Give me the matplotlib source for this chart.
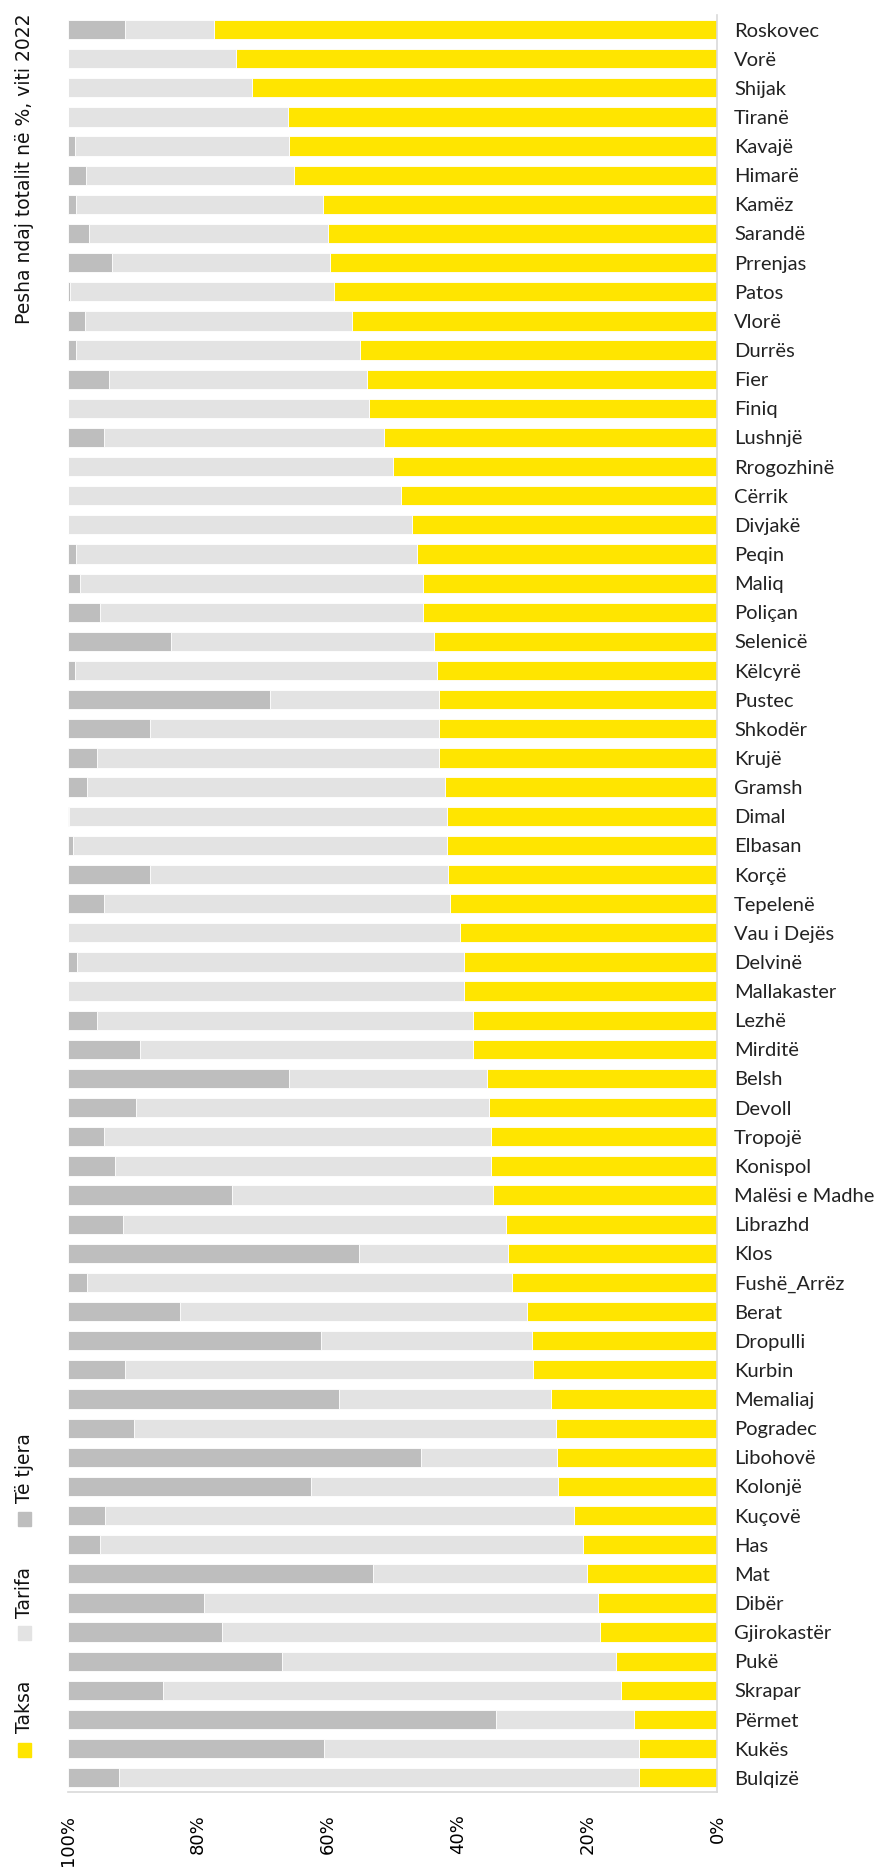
import matplotlib
matplotlib.use("Agg")
import matplotlib.pyplot as plt
from matplotlib.patches import Rectangle
from matplotlib.ticker import PercentFormatter

# Municipalities, top to bottom
bashkite = [
    "Roskovec", "Vorë", "Shijak", "Tiranë", "Kavajë", "Himarë", "Kamëz", "Sarandë",
    "Prrenjas", "Patos", "Vlorë", "Durrës", "Fier", "Finiq", "Lushnjë", "Rrogozhinë",
    "Cërrik", "Divjakë", "Peqin", "Maliq", "Poliçan", "Selenicë", "Këlcyrë", "Pustec",
    "Shkodër", "Krujë", "Gramsh", "Dimal", "Elbasan", "Korçë", "Tepelenë", "Vau i Dejës",
    "Delvinë", "Mallakaster", "Lezhë", "Mirditë", "Belsh", "Devoll", "Tropojë", "Konispol",
    "Malësi e Madhe", "Librazhd", "Klos", "Fushë_Arrëz", "Berat", "Dropulli", "Kurbin",
    "Memaliaj", "Pogradec", "Libohovë", "Kolonjë", "Kuçovë", "Has", "Mat", "Dibër",
    "Gjirokastër", "Pukë", "Skrapar", "Përmet", "Kukës", "Bulqizë",
]

# Share of total (%) - Taksa
taksa = [
    77.5, 74.1, 71.7, 66.2, 65.9, 65.2, 60.8, 60.0, 59.7, 59.1, 56.2, 55.1, 54.0, 53.7,
    51.3, 50.0, 48.8, 47.0, 46.3, 45.4, 45.4, 43.6, 43.2, 42.9, 42.8, 42.8, 42.0, 41.7,
    41.7, 41.5, 41.2, 39.7, 39.0, 39.0, 37.6, 37.6, 35.5, 35.1, 34.9, 34.8, 34.6, 32.6,
    32.2, 31.7, 29.3, 28.6, 28.4, 25.6, 24.9, 24.7, 24.6, 22.1, 20.7, 20.1, 18.4, 18.1,
    15.6, 14.8, 12.9, 12.0, 12.0,
]

# Share of total (%) - Të tjera
te_tjera = [
    8.7, 0.0, 0.0, 0.0, 1.1, 2.8, 1.2, 3.3, 6.7, 0.3, 2.6, 1.3, 6.3, 0.0,
    5.6, 0.0, 0.0, 0.0, 1.3, 1.9, 4.9, 15.8, 1.0, 31.1, 12.6, 4.4, 3.0, 0.2,
    0.7, 12.6, 5.6, 0.0, 1.4, 0.0, 4.5, 11.1, 34.1, 10.4, 5.5, 7.2, 25.2, 8.5,
    44.8, 3.0, 17.2, 38.9, 8.8, 41.8, 10.2, 54.4, 37.4, 5.7, 4.9, 46.9, 20.9, 23.7,
    32.9, 14.7, 65.9, 39.4, 7.8,
]

# Tarifa is the remainder up to 100%
tarifa = [100 - t - o for t, o in zip(taksa, te_tjera)]

series = ["Taksa", "Tarifa", "Të tjera"]
colors = ["#FFE500", "#E3E3E3", "#BEBEBE"]

label_font = ["Lato", "DejaVu Sans"]
axis_font = ["DejaVu Sans"]


def main():
    fig = plt.figure(figsize=(8.89, 18.69), dpi=100)
    ax = fig.add_axes([0.0765, 0.041, 0.7305, 0.951])

    y = list(range(len(bashkite)))
    left = [0.0] * len(bashkite)
    for values, color in zip([taksa, tarifa, te_tjera], colors):
        ax.barh(y, values, left=left, height=0.66, color=color,
                edgecolor="white", linewidth=0.6)
        left = [l + v for l, v in zip(left, values)]

    ax.set_ylim(len(bashkite) - 0.5, -0.5)
    ax.set_xlim(100, 0)

    # category labels on the right
    ax.yaxis.tick_right()
    ax.set_yticks(y)
    ax.set_yticklabels(bashkite, family=label_font, fontsize=14.5, color="#222222")
    ax.tick_params(axis="y", length=0, pad=12)

    # percent ticks, rotated
    ax.set_xticks([100, 80, 60, 40, 20, 0])
    ax.xaxis.set_major_formatter(PercentFormatter(decimals=0))
    for lbl in ax.get_xticklabels():
        lbl.set_rotation(90)
        lbl.set_family(axis_font)
        lbl.set_fontsize(13)
        lbl.set_va("top")
        lbl.set_ha("center")
    ax.tick_params(axis="x", length=0, pad=16)

    for side in ["left", "top"]:
        ax.spines[side].set_visible(False)
    for side in ["right", "bottom"]:
        ax.spines[side].set_color("#D9D9D9")
        ax.spines[side].set_linewidth(1.2)

    # vertical axis title
    fig.text(0.027, 0.993, "Pesha ndaj totalit në %, viti 2022", rotation=90,
             ha="center", va="top", family=axis_font, fontsize=13.5, color="#111111")

    # rotated legend, bottom left
    leg_x = 0.027
    leg_items = [("Taksa", 0.0637, 0.0725), ("Tarifa", 0.1262, 0.1345), ("Të tjera", 0.1875, 0.196)]
    for (name, sq_y, txt_y), color in zip(leg_items, colors):
        w = 13 / 889
        h = 14 / 1869
        fig.patches.append(Rectangle((leg_x - w / 2, sq_y - h / 2), w, h,
                                     transform=fig.transFigure, color=color))
        fig.text(leg_x, txt_y, name, rotation=90, ha="center", va="bottom",
                 family=axis_font, fontsize=13.5, color="#111111")

    fig.savefig("out.png", dpi=100)
    plt.close(fig)


if __name__ == "__main__":
    main()
